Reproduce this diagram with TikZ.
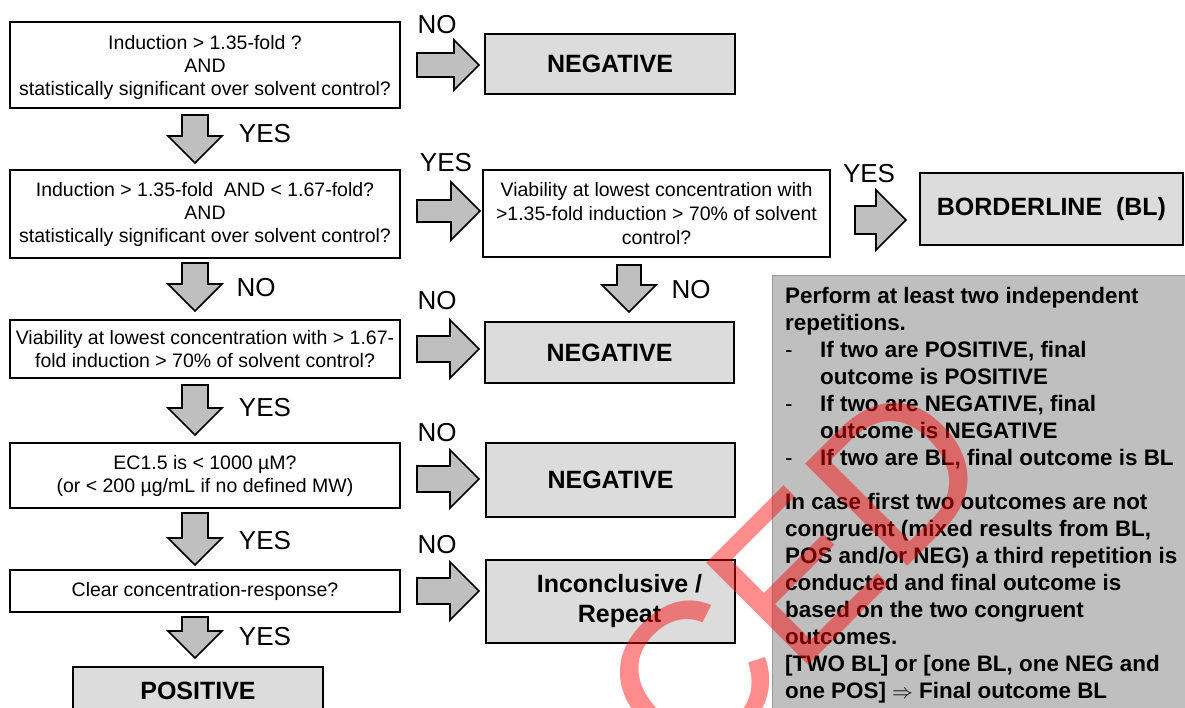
\documentclass[tikz,border=0pt]{standalone}
\usepackage{fontspec}
\setmainfont{Liberation Sans}
\definecolor{boxgray}{HTML}{DCDCDC}
\definecolor{arrgray}{HTML}{BFBFBF}
\definecolor{panelgray}{HTML}{BFBFBF}
\newcommand\blockR[4]{\draw[blk, shift={(#1)}] (0,-#3) -- (#2-#4,-#3) -- (#2-#4,-#4) -- (#2,0) -- (#2-#4,#4) -- (#2-#4,#3) -- (0,#3) -- cycle;}
\newcommand\blockD[4]{\draw[blk, shift={(#1)}] (-#3,0) -- (-#3,#2-#4) -- (-#4,#2-#4) -- (0,#2) -- (#4,#2-#4) -- (#3,#2-#4) -- (#3,0) -- cycle;}
\begin{document}
\begin{tikzpicture}[x=1pt,y=-1pt,
  qbox/.style={draw=black, line width=2.5pt, fill=white, align=center, inner sep=0pt, font=\fontsize{19.5}{23}\selectfont},
  obox/.style={draw=black, line width=2.5pt, fill=boxgray, align=center, inner sep=0pt, font=\fontsize{25}{30}\selectfont\bfseries},
  lbl/.style={font=\fontsize{26}{26}\selectfont, inner sep=0pt},
  blk/.style={draw=black, line width=1.7pt, fill=arrgray, line join=miter}]
\useasboundingbox (0,0) rectangle (1185,708);
\clip (0,0) rectangle (1185,708);

% left column questions
\node[qbox, minimum width=390, minimum height=86] (q1) at (205,65)
  {\rule{0pt}{20pt}Induction > 1.35-fold ?\\AND\\statistically significant over solvent control?};
\node[qbox, minimum width=390, minimum height=88] (q2) at (205,214)
  {Induction > 1.35-fold\ \ AND < 1.67-fold?\\AND\\statistically significant over solvent control?};
\node[qbox, minimum width=390, minimum height=58] (q3) at (205,349)
  {Viability at lowest concentration with > 1.67-\\fold induction > 70\% of solvent control?};
\node[qbox, minimum width=390, minimum height=65] (q4) at (205,475.5)
  {EC1.5 is < 1000 µM?\\(or < 200 µg/mL if no defined MW)};
\node[qbox, minimum width=390, minimum height=42] (q5) at (205,591)
  {Clear concentration-response?};
\node[obox, minimum width=250, minimum height=48] (pos) at (198,691) {POSITIVE};

% middle column
\node[obox, minimum width=250, minimum height=60] (neg1) at (610,64) {NEGATIVE};
\node[qbox, minimum width=347, minimum height=87, font=\fontsize{19.5}{24}\selectfont] (via) at (656.5,213.5)
  {Viability at lowest concentration with\\>1.35-fold induction > 70\% of solvent\\control?};
\node[obox, minimum width=263, minimum height=72] (bl) at (1051.5,209) {BORDERLINE\ \ (BL)};
\node[obox, minimum width=249, minimum height=61] (neg2) at (609.5,352.5) {NEGATIVE};
\node[obox, minimum width=249, minimum height=74] (neg3) at (610.5,480) {NEGATIVE};
\node[obox, minimum width=249, minimum height=83] (inc) at (610.5,601.5)
  {\hspace*{18pt}Inconclusive /\\\hspace*{18pt}Repeat};

% block arrows
\coordinate (r1) at (417,65);   \blockR{r1}{62}{12}{25}
\coordinate (r2) at (417,211);  \blockR{r2}{63}{11}{29}
\coordinate (r3) at (855,220);  \blockR{r3}{51}{14}{30}
\coordinate (r4) at (417,349);  \blockR{r4}{62}{13}{29}
\coordinate (r5) at (417,479);  \blockR{r5}{62}{13}{29}
\coordinate (r6) at (417,591);  \blockR{r6}{62}{13}{29}
\coordinate (d1) at (195,115);  \blockD{d1}{48}{13}{27}
\coordinate (d2) at (195,263);  \blockD{d2}{48}{13}{27}
\coordinate (d3) at (195,385);  \blockD{d3}{50}{13}{27}
\coordinate (d4) at (195,513);  \blockD{d4}{52}{13}{27}
\coordinate (d5) at (195,617);  \blockD{d5}{41}{13}{27}
\coordinate (d6) at (629,265);  \blockD{d6}{47}{12}{27}

% labels
\node[lbl] (l1) at (437,25) {NO};
\node[lbl] (l2) at (265,134) {YES};
\node[lbl] (l3) at (256,288) {NO};
\node[lbl] (l4) at (446,163) {YES};
\node[lbl] (l5) at (869,174) {YES};
\node[lbl] (l6) at (691,290) {NO};
\node[lbl] (l7) at (437,301) {NO};
\node[lbl] (l8) at (265,408) {YES};
\node[lbl] (l9) at (437,433) {NO};
\node[lbl] (l10) at (265,541) {YES};
\node[lbl] (l11) at (437,545) {NO};
\node[lbl] (l12) at (265,637) {YES};

% panel
\fill[panelgray] (772,275) rectangle (1190,715);
\draw[gray!80, line width=0.8pt] (772,715) -- (772,275) -- (1190,275);
\node[anchor=north west, inner sep=0pt, align=left, font=\fontsize{22.4}{27}\selectfont\bfseries] (ptext) at (785,287)
 {Perform at least two independent\\
  repetitions.\\
  \makebox[35pt][l]{\mdseries -}If two are POSITIVE, final\\
  \hspace*{35pt}outcome is POSITIVE\\
  \makebox[35pt][l]{\mdseries -}If two are NEGATIVE, final\\
  \hspace*{35pt}outcome is NEGATIVE\\
  \makebox[35pt][l]{\mdseries -}If two are BL, final outcome is BL\\[17pt]
  In case first two outcomes are not\\
  congruent (mixed results from BL,\\
  POS and/or NEG) a third repetition is\\
  conducted and final outcome is\\
  based on the two congruent\\
  outcomes.\\
  {}[TWO BL] or [one BL, one NEG and\\
  one POS] $\Rightarrow$ Final outcome BL};

% watermark
\node[rotate=45, anchor=base west, text=red, opacity=0.45, inner sep=0pt,
  font=\fontsize{210}{210}\selectfont] (wm) at (689,785) {CED};
\end{tikzpicture}
\end{document}
